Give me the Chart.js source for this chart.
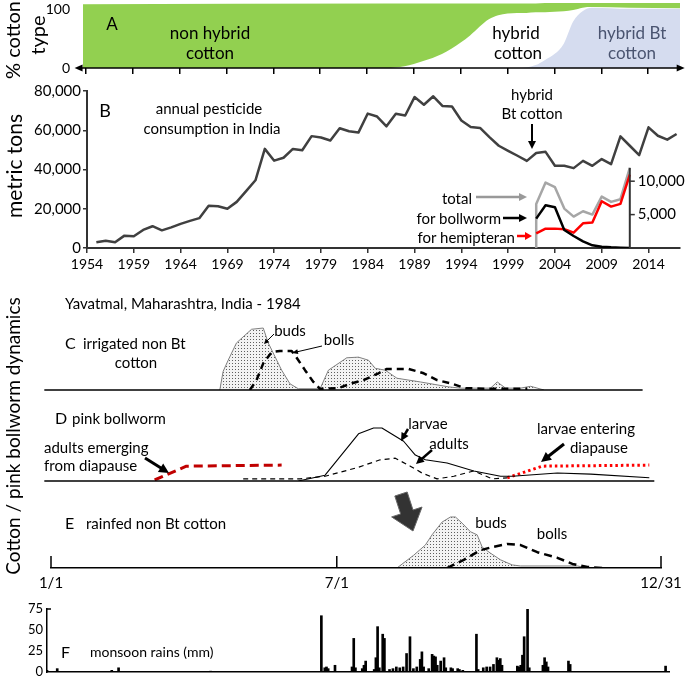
<!DOCTYPE html>
<html>
<head>
<meta charset="utf-8">
<title>Cotton, pesticides and pink bollworm in India</title>
<script src="https://cdn.jsdelivr.net/npm/chart.js@4.4.1/dist/chart.umd.min.js"></script>
<style>
  html, body { margin: 0; padding: 0; background: #fff; }
  #wrap { position: relative; width: 685px; height: 677px; overflow: hidden; background: #fff;
          font-family: Lato, "Open Sans", sans-serif; color: #000; }
  #wrap canvas { position: absolute; }
  #wrap svg { position: absolute; left: 0; top: 0; }
  .t { position: absolute; white-space: nowrap; line-height: 1; font-size: 15px; }
</style>
</head>
<body>
<div id="wrap"></div>
<script>
// ================= DATA =================
// Panel A: % of cotton area by type (cumulative boundaries)
const aYears       = [1953, 1986, 1988, 1990, 1992, 1994, 1995, 1996, 1997, 1998, 1999, 2000, 2001, 2002, 2003, 2004, 2005, 2006, 2007, 2008, 2012, 2018];
const aHybridAndBt = [0,    0,    3,    12,   24,   44,   56,   71,   84,   91,   94,   95,   95,   96,   96,   97,   98,   100,  104,  105,  104,  103];
const aBt          = [0,    0,    0,    0,    0,    0,    0,    0,    0,    0,    0,    0,    1,    5,    14,   24,   42,   80,   98,   104,  102,  102];
const aAllTypes    = [110,  111,  111,  111,  111,  111,  111,  111,  111,  111,  111,  111,  111,  111,  112,  112,  112,  112,  112,  112,  112,  112];
const aTickYears   = [1954, 1959, 1964, 1969, 1974, 1979, 1984, 1989, 1994, 1999, 2004, 2009, 2014];

// Panel B: annual pesticide consumption in India (metric tons)
const pYears = [1955, 1956, 1957, 1958, 1959, 1960, 1961, 1962, 1963, 1964, 1965, 1966, 1967, 1968, 1969, 1970,
                1971, 1972, 1973, 1974, 1975, 1976, 1977, 1978, 1979, 1980, 1981, 1982, 1983, 1984, 1985, 1986,
                1987, 1988, 1989, 1990, 1991, 1992, 1993, 1994, 1995, 1996, 1997, 1998, 1999, 2000, 2001, 2002,
                2003, 2004, 2005, 2006, 2007, 2008, 2009, 2010, 2011, 2012, 2013, 2014, 2015, 2016, 2017];
const pTons  = [2900, 3700, 2900, 6300, 6000, 9200, 11100, 9000, 10500, 12300, 13800, 15200, 21500, 21300, 20000, 23500,
                29000, 34500, 50500, 44500, 46000, 50500, 49800, 57000, 56300, 54800, 61000, 59500, 58800, 68500, 67000, 62000,
                68400, 67500, 76900, 73000, 77300, 72300, 72100, 65000, 61700, 61200, 56500, 52100, 49500, 47000, 44400, 48400,
                49000, 41900, 41900, 40700, 44400, 41900, 45300, 42700, 56900, 52100, 47300, 61500, 57200, 55200, 58100];
const bTickYears = [1954, 1959, 1964, 1969, 1974, 1979, 1984, 1989, 1994, 1999, 2004, 2009, 2014];
const bTickStep = 10000;

// Panel B inset: insecticide use on cotton (metric tons)
const insetYears       = [2002, 2003, 2004, 2005, 2006, 2007, 2008, 2009, 2010, 2011, 2012];
const insetTotal       = [6600, 9800, 9100, 5900, 4700, 5500, 5000, 7700, 6900, 7300, 12000];
const insetBollworm    = [4400, 6400, 6100, 2700, 1800, 1000, 400,  200,  100,  50,   0];
const insetHemipteran  = [2200, 2900, 2900, 2800, 2300, 3700, 3800, 7000, 6200, 6600, 11000];
const insetTickValues  = [5000, 10000];

// Panel C: irrigated non Bt cotton (relative units, day of year)
const cBudsDays  = [101, 103, 106, 111, 120, 127, 130, 138, 143, 148, 161, 166, 177, 184, 190, 194, 200, 207, 221, 238, 245, 263, 267, 272, 281, 287, 295];
const cBuds      = [0,   30,  48,  76,  98,  100, 76,  32,  10,  2,   2,   32,  52,  53,  48,  35,  32,  19,  13,  5,   3,   3,   13,  3,   3,   6,   0];
const cBollsDays = [119, 123, 127, 132, 137, 144, 147, 152, 157, 161, 172, 180, 187, 196, 201, 214, 223, 231, 240, 248, 259, 285];
const cBolls     = [0,   16,  43,  61,  63,  63,  52,  32,  13,  2,   3,   11,  16,  27,  34,  34,  27,  16,  10,  3,   2,   2];

// Panel D: pink bollworm (relative units)
const dEmergeDays   = [62, 81, 138];
const dEmerge       = [2, 28, 30];
const dLarvaeDays   = [148, 164, 184, 193, 198, 211, 218, 224, 237, 253, 269, 276, 303, 323, 358];
const dLarvae       = [0,   11,  89,  100, 100, 75,  49,  40,  34,  19,  9,   9,   15,  13,  6];
const dAdultsDays   = [115, 149, 164, 183, 197, 206, 215, 222, 231, 241, 253, 264, 273];
const dAdults       = [4,   4,   9,   25,  40,  43,  28,  15,  4,   9,   19,  4,   6];
const dDiapauseDays = [273, 294, 358];
const dDiapause     = [6, 28, 30];

// Panel E: rainfed non Bt cotton (relative units)
const eBudsDays  = [207, 217, 224, 228, 234, 239, 242, 246, 251, 255, 258, 263, 269, 276, 281, 315, 321];
const eBuds      = [0,   25,  45,  65,  90,  100, 100, 88,  71,  65,  41,  29,  16,  6,   4,   4,   0];
const eBollsDays = [237, 247, 257, 264, 273, 281, 291, 303, 312, 321, 330];
const eBolls     = [0,   16,  35,  41,  47,  45,  31,  20,  8,   2,   0];
const eTickDays   = [0, 171, 365];
const eTickLabels = ['1/1', '7/1', '12/31'];

// Panel F: daily monsoon rains (mm)
const rainDays = [1, 7, 39, 43, 97, 162, 164, 165, 166, 170, 180, 181, 182, 186, 187, 188, 193, 194, 195, 196, 198, 199,
                  202, 204, 206, 208, 210, 212, 214, 216, 218, 220, 221, 222, 225, 227, 228, 229, 230, 232, 234, 235,
                  238, 239, 242, 243, 245, 253, 254, 257, 259, 261, 263, 265, 266, 267, 268, 277, 278, 279, 280, 281,
                  283, 284, 292, 293, 294, 295, 307, 308, 364];
const rainMM   = [2, 4, 2, 5, 1, 67, 5, 6, 4, 8, 6, 40, 5, 4, 8, 13, 3, 17, 54, 5, 45, 40,
                  3, 4, 6, 5, 6, 22, 42, 4, 6, 15, 24, 6, 4, 21, 19, 18, 8, 13, 17, 5,
                  5, 4, 4, 3, 2, 45, 3, 5, 6, 6, 9, 17, 14, 16, 8, 7, 6, 8, 20, 42,
                  75, 5, 8, 17, 12, 6, 13, 9, 7];
const fTickValues = [0, 25, 50, 75];

// ================= HELPERS =================
const FONT = "Lato, 'Open Sans', sans-serif";
Chart.defaults.font.family = FONT;
Chart.defaults.color = '#000';
const wrap = document.getElementById('wrap');
const xy = (xs, ys) => xs.map((x, i) => ({ x: x, y: ys[i] }));
const setTicks = vals => s => { s.ticks = vals.map(v => ({ value: v })); };
const fitTo = size => s => {
  if (s.isHorizontal()) s.height = size; else s.width = size;
  s.paddingLeft = 0; s.paddingRight = 0; s.paddingTop = 0; s.paddingBottom = 0;
};
function canvasAt(l, t, w, h) {
  const c = document.createElement('canvas');
  c.width = w; c.height = h;
  c.style.left = l + 'px'; c.style.top = t + 'px';
  c.style.width = w + 'px'; c.style.height = h + 'px';
  wrap.appendChild(c);
  return c;
}
function mk(c, cfg) {
  cfg.options = Object.assign({ responsive: false, animation: false, devicePixelRatio: 1, events: [] }, cfg.options);
  cfg.options.plugins = Object.assign({ legend: { display: false }, tooltip: { enabled: false } }, cfg.options.plugins || {});
  return new Chart(c.getContext('2d'), cfg);
}
function stipple(ctx) {
  const t = document.createElement('canvas'); t.width = 3; t.height = 3;
  const g = t.getContext('2d');
  g.fillStyle = '#f3f3f3'; g.fillRect(0, 0, 3, 3);
  g.fillStyle = '#5e5e5e'; g.fillRect(1, 1, 1, 1);
  return ctx.createPattern(t, 'repeat');
}
const line0 = { pointRadius: 0, tension: 0, fill: false, borderJoinStyle: 'round' };

// ================= PANEL A =================
const aAxisFrom = 1952.8, aAxisTo = 2017.9;
const aAxisPlugin = {
  id: 'aAxis',
  afterDraw(ch) {
    const { ctx } = ch, x = ch.scales.x, y = ch.scales.y;
    const y0 = y.getPixelForValue(0), xl = x.getPixelForValue(aAxisFrom), xr = x.getPixelForValue(aAxisTo);
    ctx.save(); ctx.strokeStyle = '#000'; ctx.fillStyle = '#000'; ctx.lineWidth = 1.6;
    ctx.beginPath(); ctx.moveTo(xl + 4, y0); ctx.lineTo(xr - 4, y0); ctx.stroke();
    ctx.beginPath(); ctx.moveTo(xl, y0); ctx.lineTo(xl + 8, y0 - 3.5); ctx.lineTo(xl + 8, y0 + 3.5); ctx.closePath(); ctx.fill();
    ctx.beginPath(); ctx.moveTo(xr, y0); ctx.lineTo(xr - 8, y0 - 3.5); ctx.lineTo(xr - 8, y0 + 3.5); ctx.closePath(); ctx.fill();
    ctx.restore();
  }
};
mk(canvasAt(0, 0, 685, 80), {
  type: 'line',
  data: { datasets: [
    Object.assign({}, line0, { label: 'hybrid Bt cotton', data: xy(aYears, aBt), backgroundColor: '#D5DCEF', borderWidth: 0, fill: 'origin', cubicInterpolationMode: 'monotone' }),
    Object.assign({}, line0, { label: 'hybrid cotton', data: xy(aYears, aHybridAndBt), borderWidth: 0, cubicInterpolationMode: 'monotone' }),
    Object.assign({}, line0, { label: 'non hybrid cotton', data: xy(aYears, aAllTypes), backgroundColor: '#92D050', borderWidth: 0, fill: 1, cubicInterpolationMode: 'monotone' })
  ]},
  options: {
    layout: { padding: { left: 0, top: 0, right: 5, bottom: 6 } },
    scales: {
      x: { type: 'linear', min: 1953.7, max: 2017.4, afterBuildTicks: setTicks(aTickYears), afterFit: fitTo(6),
           ticks: { display: false }, border: { display: false },
           grid: { display: true, drawOnChartArea: false, drawTicks: true, tickLength: 6, color: '#000', lineWidth: 1.5 } },
      y: { min: 0, max: 117.2, afterBuildTicks: setTicks([0, 100]), afterFit: fitTo(83),
           ticks: { padding: 13, font: { size: 14 } }, grid: { display: false, drawTicks: false }, border: { display: false } }
    }
  },
  plugins: [aAxisPlugin]
});

// ================= PANEL B =================
const insetPlugin = {
  id: 'inset',
  afterDatasetsDraw(ch) {
    const { ctx } = ch, x = ch.scales.x, y2 = ch.scales.y2;
    const px = x.getPixelForValue(insetYears[insetYears.length - 1]);
    ctx.save(); ctx.strokeStyle = '#333'; ctx.lineWidth = 2;
    ctx.beginPath(); ctx.moveTo(px, y2.getPixelForValue(0)); ctx.lineTo(px, y2.getPixelForValue(Math.max(...insetTotal))); ctx.stroke();
    ctx.fillStyle = '#000'; ctx.font = '15px ' + FONT; ctx.textAlign = 'left'; ctx.textBaseline = 'middle';
    insetTickValues.forEach(v => {
      const py = y2.getPixelForValue(v);
      ctx.lineWidth = 1.5; ctx.beginPath(); ctx.moveTo(px, py); ctx.lineTo(px + 5, py); ctx.stroke();
      ctx.fillText(v.toLocaleString('en-US'), px + 8, py);
    });
    ctx.restore();
  }
};
mk(canvasAt(0, 80, 685, 200), {
  type: 'line',
  data: { datasets: [
    Object.assign({}, line0, { label: 'annual pesticide consumption', data: xy(pYears, pTons), borderColor: '#404040', borderWidth: 2.5, order: 4, yAxisID: 'y' }),
    Object.assign({}, line0, { label: 'total', data: [{ x: insetYears[0], y: 0 }].concat(xy(insetYears, insetTotal)), borderColor: '#a6a6a6', borderWidth: 2.5, order: 3, yAxisID: 'y2' }),
    Object.assign({}, line0, { label: 'for hemipteran', data: xy(insetYears, insetHemipteran), borderColor: '#ff0000', borderWidth: 2.5, order: 2, yAxisID: 'y2' }),
    Object.assign({}, line0, { label: 'for bollworm', data: xy(insetYears, insetBollworm), borderColor: '#000', borderWidth: 2.5, order: 1, yAxisID: 'y2' })
  ]},
  options: {
    layout: { padding: { left: 0, top: 11, right: 5.6, bottom: 10 } },
    scales: {
      x: { type: 'linear', min: 1954, max: 2017.3, afterBuildTicks: setTicks(bTickYears), afterFit: fitTo(22),
           ticks: { autoSkip: false, maxRotation: 0, padding: 3, font: { size: 14 }, callback: v => String(v) },
           grid: { drawOnChartArea: false, tickLength: 5, color: '#333', lineWidth: 1.5 },
           border: { color: '#333', width: 2 } },
      y: { min: 0, max: 80000, afterFit: fitTo(87),
           ticks: { stepSize: bTickStep, padding: 2, font: { size: 15 }, callback: v => (v % 20000 === 0 ? v.toLocaleString('en-US') : '') },
           grid: { drawOnChartArea: false, tickLength: 4, color: '#333', lineWidth: 1.5 },
           border: { color: '#333', width: 2 } },
      y2: { display: false, min: 0, max: 23500 }
    }
  },
  plugins: [insetPlugin]
});

// ================= PANELS C, D, E =================
const baseline = (from, to) => ({
  id: 'baseline',
  afterDatasetsDraw(ch) {
    const { ctx } = ch, x = ch.scales.x, y = ch.scales.y;
    ctx.save(); ctx.strokeStyle = '#000'; ctx.lineWidth = 1.5;
    ctx.beginPath(); ctx.moveTo(x.getPixelForValue(from), y.getPixelForValue(0)); ctx.lineTo(x.getPixelForValue(to), y.getPixelForValue(0)); ctx.stroke();
    ctx.restore();
  }
});
const hidden = { display: false };

const cC = canvasAt(0, 290, 685, 110);
mk(cC, {
  type: 'line',
  data: { datasets: [
    Object.assign({}, line0, { label: 'bolls', data: xy(cBollsDays, cBolls), borderColor: '#000', borderWidth: 2.5, borderDash: [7, 5], order: 1 }),
    Object.assign({}, line0, { label: 'buds', data: xy(cBudsDays, cBuds), borderColor: '#808080', borderWidth: 1, backgroundColor: stipple(cC.getContext('2d')), fill: 'origin', order: 2 })
  ]},
  options: {
    layout: { padding: { left: 51, top: 10, right: 24, bottom: 10 } },
    scales: { x: Object.assign({ type: 'linear', min: 0, max: 365 }, hidden), y: Object.assign({ min: 0, max: 145.2 }, hidden) }
  },
  plugins: [baseline(-4, 354)]
});

mk(canvasAt(0, 400, 685, 90), {
  type: 'line',
  data: { datasets: [
    Object.assign({}, line0, { label: 'adults emerging from diapause', data: xy(dEmergeDays, dEmerge), borderColor: '#c00000', borderWidth: 3, borderDash: [9, 5] }),
    Object.assign({}, line0, { label: 'larvae', data: xy(dLarvaeDays, dLarvae), borderColor: '#000', borderWidth: 1.1 }),
    Object.assign({}, line0, { label: 'adults', data: xy(dAdultsDays, dAdults), borderColor: '#000', borderWidth: 1.2, borderDash: [5, 4] }),
    Object.assign({}, line0, { label: 'larvae entering diapause', data: xy(dDiapauseDays, dDiapause), borderColor: '#ff0000', borderWidth: 3, borderDash: [2.5, 3] })
  ]},
  options: {
    layout: { padding: { left: 51, top: 5, right: 24, bottom: 9 } },
    scales: { x: Object.assign({ type: 'linear', min: 0, max: 365 }, hidden), y: Object.assign({ min: 0, max: 143.4 }, hidden) }
  },
  plugins: [baseline(-4, 361)]
});

const eTickPlugin = {
  id: 'eTicks',
  afterDraw(ch) {
    const { ctx } = ch, x = ch.scales.x, a = ch.chartArea;
    ctx.save(); ctx.strokeStyle = '#000'; ctx.lineWidth = 1.5;
    x.ticks.forEach(t => { const px = x.getPixelForValue(t.value); ctx.beginPath(); ctx.moveTo(px, a.bottom); ctx.lineTo(px, a.bottom - 12); ctx.stroke(); });
    ctx.restore();
  }
};
const cE = canvasAt(0, 495, 685, 100);
mk(cE, {
  type: 'line',
  data: { datasets: [
    Object.assign({}, line0, { label: 'bolls', data: xy(eBollsDays, eBolls), borderColor: '#000', borderWidth: 2.5, borderDash: [8, 5], order: 1 }),
    Object.assign({}, line0, { label: 'buds', data: xy(eBudsDays, eBuds), borderColor: '#808080', borderWidth: 1, backgroundColor: stipple(cE.getContext('2d')), fill: 'origin', order: 2 })
  ]},
  options: {
    layout: { padding: { left: 51, top: 5, right: 24, bottom: 0 } },
    scales: {
      x: { type: 'linear', min: 0, max: 365, afterBuildTicks: setTicks(eTickDays), afterFit: fitTo(27),
           ticks: { autoSkip: false, maxRotation: 0, padding: 6, font: { size: 15 }, callback: (v, i) => eTickLabels[i] },
           grid: { display: false, drawTicks: false }, border: { color: '#000', width: 1.5, z: 1 } },
      y: Object.assign({ min: 0, max: 133.3 }, hidden)
    }
  },
  plugins: [eTickPlugin]
});

// ================= PANEL F =================
const fTopTick = {
  id: 'fTop',
  afterDraw(ch) {
    const { ctx } = ch, y = ch.scales.y, a = ch.chartArea;
    const py = y.getPixelForValue(fTickValues[fTickValues.length - 1]);
    ctx.save(); ctx.strokeStyle = '#000'; ctx.lineWidth = 1.5;
    ctx.beginPath(); ctx.moveTo(a.left, py); ctx.lineTo(a.left + 4, py); ctx.stroke();
    ctx.restore();
  }
};
mk(canvasAt(0, 598, 685, 79), {
  type: 'bar',
  data: { datasets: [ { label: 'monsoon rains (mm)', data: xy(rainDays, rainMM), backgroundColor: '#000', barThickness: 2 } ] },
  options: {
    layout: { padding: { left: 0, top: 11, right: 16, bottom: 4 } },
    scales: {
      x: { type: 'linear', min: 1, max: 366, offset: false, afterFit: fitTo(1),
           ticks: { display: false }, grid: { display: false, drawTicks: false, offset: false }, border: { color: '#000', width: 1.5, z: 1 } },
      y: { min: 0, max: 75, afterBuildTicks: setTicks(fTickValues), afterFit: fitTo(47),
           ticks: { padding: 4, font: { size: 13 } }, grid: { display: false, drawTicks: false }, border: { color: '#000', width: 1.5, z: 1 } }
    }
  },
  plugins: [fTopTick]
});

// ================= ANNOTATION ARROWS =================
const NS = 'http://www.w3.org/2000/svg';
const svg = document.createElementNS(NS, 'svg');
svg.setAttribute('width', 685); svg.setAttribute('height', 677);
wrap.appendChild(svg);
function el(name, attrs) { const e = document.createElementNS(NS, name); for (const k in attrs) e.setAttribute(k, attrs[k]); svg.appendChild(e); return e; }
function arrow(x1, y1, x2, y2, color, w, hl, hw) {
  const dx = x2 - x1, dy = y2 - y1, L = Math.hypot(dx, dy), ux = dx / L, uy = dy / L;
  const bx = x2 - ux * hl, by = y2 - uy * hl;
  el('line', { x1: x1, y1: y1, x2: bx + ux, y2: by + uy, stroke: color, 'stroke-width': w });
  el('polygon', { points: `${x2},${y2} ${bx - uy * hw / 2},${by + ux * hw / 2} ${bx + uy * hw / 2},${by - ux * hw / 2}`, fill: color });
}
function blockArrow(x1, y1, x2, y2, sw, hw, hl, fill) {
  const dx = x2 - x1, dy = y2 - y1, L = Math.hypot(dx, dy), ux = dx / L, uy = dy / L, nx = -uy, ny = ux;
  const bx = x2 - ux * hl, by = y2 - uy * hl;
  const p = [[x1 + nx * sw / 2, y1 + ny * sw / 2], [bx + nx * sw / 2, by + ny * sw / 2], [bx + nx * hw / 2, by + ny * hw / 2], [x2, y2],
             [bx - nx * hw / 2, by - ny * hw / 2], [bx - nx * sw / 2, by - ny * sw / 2], [x1 - nx * sw / 2, y1 - ny * sw / 2]];
  el('polygon', { points: p.map(q => q.join(',')).join(' '), fill: fill, stroke: '#666', 'stroke-width': 1 });
}
arrow(532, 124, 532, 149, '#000', 2, 8, 8);
arrow(476, 197, 527, 197, '#999', 2.5, 8, 8);
arrow(503, 218, 527, 218, '#000', 2.5, 8, 8);
arrow(517, 236, 532, 236, '#f00', 2.5, 7, 8);
arrow(274, 334, 264, 344, '#000', 1, 5, 5);
arrow(322, 346, 292, 353, '#000', 1, 6, 5);
arrow(145, 458, 169, 473, '#000', 3, 10, 10);
arrow(408, 429, 401, 441, '#000', 2.5, 8, 8);
arrow(432, 450, 416, 464, '#000', 2.5, 8, 8);
arrow(564, 444, 541, 462, '#000', 3, 10, 10);
blockArrow(401, 494, 413, 531, 13, 32, 20, '#333');

// ================= TEXT =================
function txt(s, x, y, o) {
  o = o || {};
  const d = document.createElement('div');
  d.className = 't'; d.textContent = s;
  d.style.left = x + 'px'; d.style.top = y + 'px';
  if (o.size) d.style.fontSize = o.size + 'px';
  if (o.color) d.style.color = o.color;
  const ax = o.align === 'left' ? '0' : (o.align === 'right' ? '-100%' : '-50%');
  d.style.transform = o.rot ? 'translate(-50%,-50%) rotate(-90deg)' : `translate(${ax},-50%)`;
  wrap.appendChild(d);
}
// A
txt('% cotton', 12, 40, { size: 20, rot: true });
txt('type', 37, 35, { size: 20, rot: true });
txt('A', 112, 23, { size: 17 });
txt('non hybrid', 210, 32, { size: 17 });
txt('cotton', 210, 52, { size: 17 });
txt('hybrid', 516, 32, { size: 17 });
txt('cotton', 518, 52, { size: 17 });
txt('hybrid Bt', 632, 32, { size: 17, color: '#4a5470' });
txt('cotton', 632, 52, { size: 17, color: '#4a5470' });
// B
txt('B', 105, 110, { size: 18 });
txt('annual pesticide', 209, 108);
txt('consumption in India', 212, 128);
txt('metric tons', 13, 166, { size: 21, rot: true });
txt('hybrid', 532, 94);
txt('Bt cotton', 532, 113);
txt('total', 472, 198, { align: 'right' });
txt('for bollworm', 501, 218, { align: 'right' });
txt('for hemipteran', 515, 237, { align: 'right' });
// C
txt('Yavatmal, Maharashtra, India - 1984', 65, 303, { align: 'left' });
txt('C', 65, 343, { align: 'left', size: 16 });
txt('irrigated non Bt', 83, 343, { align: 'left' });
txt('cotton', 136, 362);
txt('buds', 290, 330);
txt('bolls', 339, 339);
// D
txt('D', 55, 418, { align: 'left', size: 16 });
txt('pink bollworm', 72, 418, { align: 'left' });
txt('adults emerging', 44, 447, { align: 'left' });
txt('from diapause', 44, 465, { align: 'left' });
txt('larvae', 428, 423);
txt('adults', 449, 443);
txt('larvae entering', 586, 428);
txt('diapause', 599, 447);
// E
txt('E', 65, 523, { align: 'left', size: 16 });
txt('rainfed non Bt cotton', 86, 523, { align: 'left' });
txt('buds', 491, 522);
txt('bolls', 552, 533);
txt('Cotton / pink bollworm dynamics', 12, 436, { size: 19, rot: true });
// F
txt('F', 61, 652, { align: 'left', size: 16 });
txt('monsoon rains (mm)', 90, 652, { align: 'left', size: 14 });
</script>
</body>
</html>
